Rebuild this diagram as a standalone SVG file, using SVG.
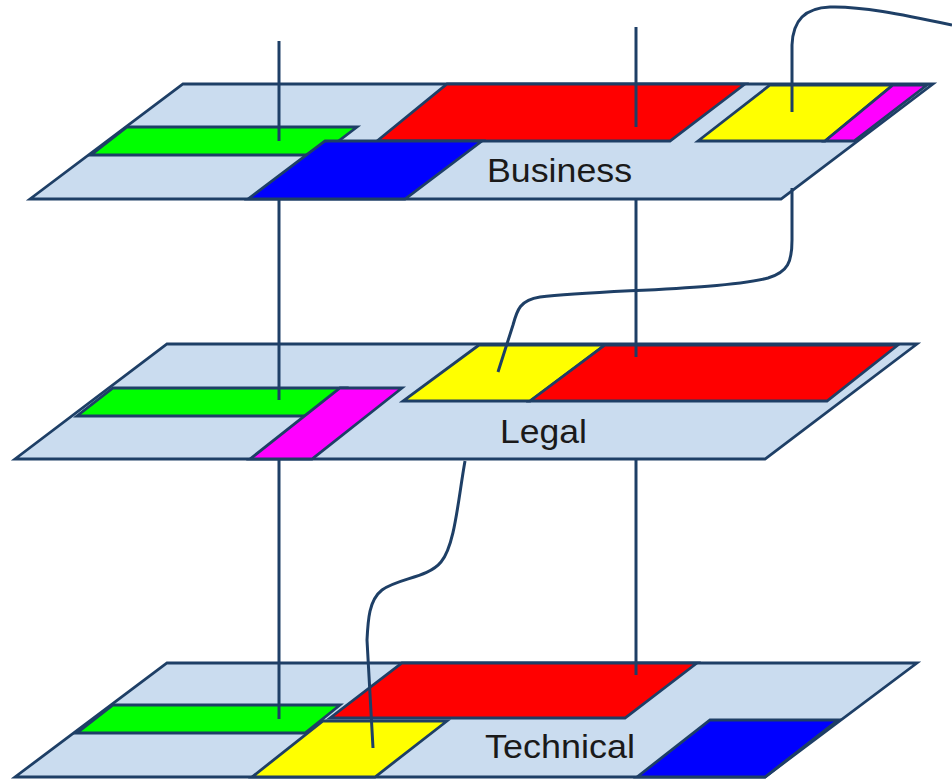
<svg xmlns="http://www.w3.org/2000/svg" width="952" height="780" viewBox="0 0 952 780">
  <style>
    .plane { fill: #CADCEF; stroke: #1E3F66; stroke-width: 2.8; stroke-linejoin: miter; }
    .tile { stroke: #1E3F66; stroke-width: 2.8; stroke-linejoin: miter; }
    .green { fill: #00FF00; }
    .blue { fill: #0000FF; }
    .red { fill: #FF0000; }
    .yellow { fill: #FFFF00; }
    .magenta { fill: #FF00FF; }
    .label { font-family: "Liberation Sans", Arial, sans-serif; font-size: 33px; fill: #1A1A1A; }
    .link { fill: none; stroke: #1E3F66; stroke-width: 3; stroke-linecap: butt; }
  </style>
  <rect width="952" height="780" fill="#FFFFFF"/>

  <!-- Business layer -->
  <g id="business">
    <polygon class="plane" points="183,84 933,84 781,199 30,199"/>
    <polygon class="tile green" points="127,127 357,127 320,155 91,155"/>
    <polygon class="tile red" points="447,84 745,84 670,141 377,141"/>
    <polygon class="tile blue" points="325,141 482,141 405,199 248,199"/>
    <polygon class="tile yellow" points="770,85 893,85 825,141 698,141"/>
    <polygon class="tile magenta" points="893,85 927,85 854,141 825,141"/>
    <text class="label" x="487" y="182" textLength="145" lengthAdjust="spacingAndGlyphs">Business</text>
  </g>

  <!-- Legal layer -->
  <g id="legal">
    <polygon class="plane" points="167,344 917,344 765,459 15,459"/>
    <polygon class="tile green" points="113,388 345,388 310,416 77,416"/>
    <polygon class="tile magenta" points="340,388 402,388 312,459 250,459"/>
    <polygon class="tile yellow" points="479,345 605,345 530,401 403,401"/>
    <polygon class="tile red" points="605,345 898,345 827,401 530,401"/>
    <text class="label" x="500" y="443" textLength="87" lengthAdjust="spacingAndGlyphs">Legal</text>
  </g>

  <!-- Technical layer -->
  <g id="technical">
    <polygon class="plane" points="167,663 917,663 765,777 15,777"/>
    <polygon class="tile green" points="113,705 340,705 305,733 77,733"/>
    <polygon class="tile red" points="402,663 697,663 625,718 330,718"/>
    <polygon class="tile yellow" points="323,721 447,721 375,777 252,777"/>
    <polygon class="tile blue" points="710,720 838,720 765,777 637,777"/>
    <text class="label" x="485" y="758" textLength="150" lengthAdjust="spacingAndGlyphs">Technical</text>
  </g>

  <!-- Connectors between layers -->
  <g id="connectors">
    <!-- left vertical link -->
    <line class="link" x1="279" y1="41" x2="279" y2="141"/>
    <line class="link" x1="279" y1="199" x2="279" y2="400"/>
    <line class="link" x1="279" y1="459" x2="279" y2="719"/>
    <!-- middle vertical link -->
    <line class="link" x1="636" y1="27" x2="636" y2="127"/>
    <line class="link" x1="636" y1="199" x2="636" y2="357"/>
    <line class="link" x1="636" y1="459" x2="636" y2="675"/>
    <!-- curved links -->
    <path class="link" d="M952,25 C900,14 860,6 830,7 C805,8 793,20 792,45 L792,112"/>
    <path class="link" d="M792,188 L792,240 C792,262 788,272 768,278 C720,290 600,290 540,297 C520,300 517,310 513,325 L498,372"/>
    <path class="link" d="M465,461 C458,500 455,545 441,562 C428,578 398,578 382,590 C369,600 368,620 367,640 L373,748"/>
  </g>
</svg>
